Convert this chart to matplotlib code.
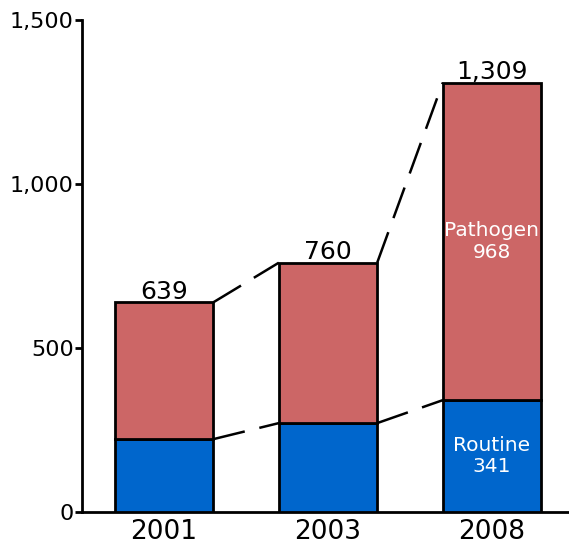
import matplotlib
matplotlib.use("Agg")
import matplotlib.pyplot as plt
from matplotlib.ticker import FuncFormatter

years = ["2001", "2003", "2008"]
totals = [639, 760, 1309]
routine = [222, 271, 341]
pathogen = [t - r for t, r in zip(totals, routine)]

red = "#CC6666"
blue = "#0066CC"
w = 0.6

fig = plt.figure(figsize=(5.69, 5.48), dpi=100)
ax = fig.add_axes([0.1441, 0.0657, 0.856, 0.8978])

x = list(range(len(years)))
ax.bar(x, routine, width=w, color=blue, edgecolor="black", linewidth=2, zorder=3)
ax.bar(x, pathogen, width=w, bottom=routine, color=red, edgecolor="black", linewidth=2, zorder=3)

# dashed connectors between neighbouring bars
for i in range(len(x) - 1):
    for vals in (totals, routine):
        ax.plot([x[i] + w / 2, x[i + 1] - w / 2], [vals[i], vals[i + 1]],
                color="black", lw=1.8, dashes=(13, 6), zorder=2)

for xi, t in zip(x, totals):
    ax.annotate(f"{t:,}", (xi, t), xytext=(0, -1), textcoords="offset points",
                ha="center", va="bottom", fontsize=18)

# labels inside last bar
last = x[-1]
ax.text(last, routine[-1] + pathogen[-1] * 0.5, f"Pathogen\n{pathogen[-1]}",
        ha="center", va="center", color="white", fontsize=14.5, linespacing=1.15)
ax.text(last, routine[-1] * 0.5, f"Routine\n{routine[-1]}",
        ha="center", va="center", color="white", fontsize=14.5, linespacing=1.15)

ax.set_xlim(-0.5, 2.47)
ax.set_ylim(0, 1500)
ax.set_yticks([0, 500, 1000, 1500])
ax.yaxis.set_major_formatter(FuncFormatter(lambda v, p: f"{int(v):,}"))
ax.set_xticks(x)
ax.set_xticklabels(years)
ax.tick_params(axis="x", length=0, labelsize=19, pad=5)
ax.tick_params(axis="y", length=5, width=2, labelsize=16, pad=1)
for s in ("top", "right"):
    ax.spines[s].set_visible(False)
for s in ("left", "bottom"):
    ax.spines[s].set_linewidth(2)

fig.savefig("out.png", dpi=100)
